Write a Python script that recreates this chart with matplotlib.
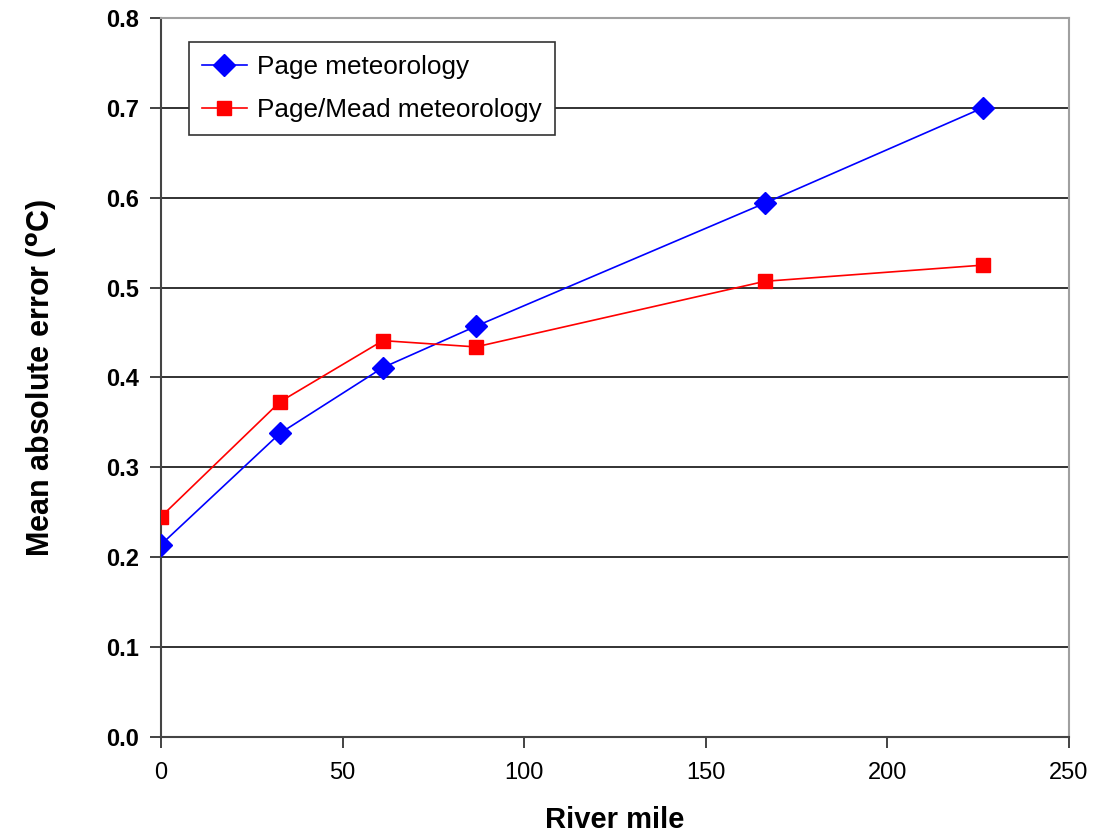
import matplotlib.pyplot as plt

# river mile of each station
river_mile = [0, 32.8, 61.1, 86.7, 166.3, 226.3]
page_met = [0.214, 0.338, 0.411, 0.457, 0.594, 0.700]
page_mead_met = [0.245, 0.373, 0.441, 0.434, 0.507, 0.525]

plt.rcParams['font.family'] = ['Liberation Sans', 'DejaVu Sans']

fig = plt.figure(figsize=(11.01, 8.39), dpi=100)
ax = fig.add_axes([0.1462, 0.1216, 0.8247, 0.857])

ax.plot(river_mile, page_met, color='#0000ff', lw=1.2, marker='D', ms=11,
        label='Page meteorology', zorder=3)
ax.plot(river_mile, page_mead_met, color='#ff0000', lw=1.2, marker='s', ms=10,
        label='Page/Mead meteorology', zorder=3)

ax.set_xlim(0, 250)
ax.set_ylim(0, 0.8)
ax.set_xticks(range(0, 251, 50))
ax.set_yticks([i / 10 for i in range(9)])
ax.set_yticklabels(['%.1f' % (i / 10) for i in range(9)])
ax.yaxis.grid(True, color='#222222', lw=1.3)
ax.set_axisbelow(True)

for s in ['left', 'bottom']:
    ax.spines[s].set_color('#444444')
    ax.spines[s].set_linewidth(1.5)
for s in ['top', 'right']:
    ax.spines[s].set_color('#a0a0a0')
    ax.spines[s].set_linewidth(1.5)

ax.tick_params(direction='out', length=8, width=1.2, color='#222222')
ax.tick_params(axis='y', labelsize=17, pad=8)
ax.tick_params(axis='x', labelsize=17, pad=10)
for lbl in ax.get_yticklabels():
    lbl.set_fontweight('bold')

ax.set_xlabel('River mile', fontsize=21, fontweight='bold', labelpad=16)
ax.set_ylabel(r'Mean absolute error ($^{\mathbf{o}}$C)', fontsize=22,
              fontweight='bold', labelpad=34)

leg = ax.legend(loc='upper left', bbox_to_anchor=(0.031, 0.967), fontsize=18.8,
                frameon=True, fancybox=False, borderpad=0.5, labelspacing=0.75,
                handlelength=1.7, handletextpad=0.4, borderaxespad=0)
leg.get_frame().set_edgecolor('#333333')
leg.get_frame().set_linewidth(1.2)
leg.get_frame().set_alpha(1)

fig.savefig('out.png', dpi=100)
